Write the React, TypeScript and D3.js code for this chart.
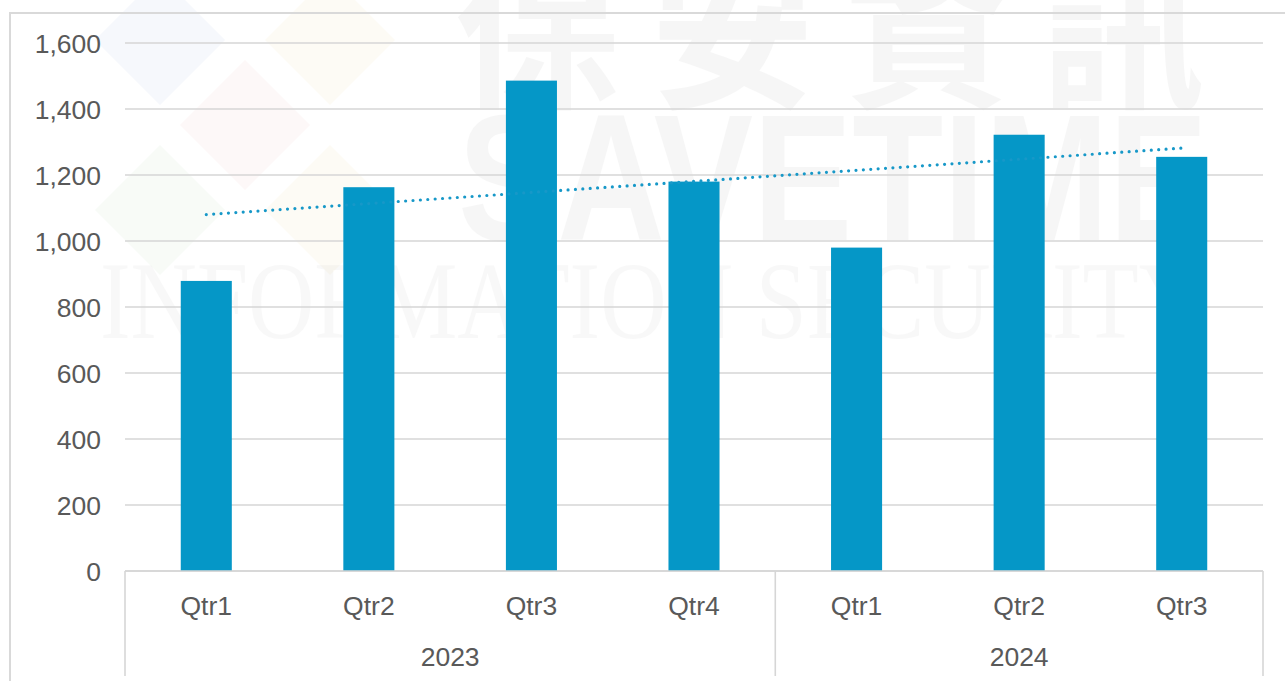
import React from "react";
import * as d3 from "d3";

const quarters = ["Qtr1", "Qtr2", "Qtr3", "Qtr4", "Qtr1", "Qtr2", "Qtr3"];
const years = ["2023", "2023", "2023", "2023", "2024", "2024", "2024"];
const values = [879, 1163, 1486, 1180, 980, 1322, 1255];
const yTicks = [0, 200, 400, 600, 800, 1000, 1200, 1400, 1600];
const yearGroups = ["2023", "2024"];

const W = 1285;
const H = 681;
const left = 125;
const right = 1263;
const top = 43;
const bottom = 571;
const textColor = "#595959";
const gridColor = "#d6d6d6";
const barColor = "#0597c7";
const font = "'Liberation Sans', Arial, sans-serif";
const fs = 26.5;

export default function App() {
  const idx = values.map((_, i) => i);
  const x = d3.scaleBand<number>().domain(idx).range([left, right]).paddingInner(0.686).paddingOuter(0.343);
  const y = d3.scaleLinear().domain([0, 1600]).range([bottom, top]);
  const step = x.step();

  // linear trendline (least squares) from the data
  const xs = idx.map((i) => i + 1);
  const mx = d3.mean(xs)!;
  const my = d3.mean(values)!;
  const slope =
    d3.sum(xs.map((v, i) => (v - mx) * (values[i] - my))) / d3.sum(xs.map((v) => (v - mx) ** 2));
  const icpt = my - slope * mx;
  const cx = (i: number) => (x(i) as number) + x.bandwidth() / 2;
  const trend = d3
    .line<number>()
    .x((i) => cx(i))
    .y((i) => y(icpt + slope * (i + 1)));

  const groupInfo = yearGroups.map((g) => {
    const members = idx.filter((i) => years[i] === g);
    const start = left + step * members[0];
    const end = left + step * (members[members.length - 1] + 1);
    return { g, start, end };
  });
  const boundaries = [left, ...groupInfo.map((d) => d.end)];

  const diamonds = [
    { cx: 160, cy: 40, r: 65, c: "#e9eef7" },
    { cx: 330, cy: 40, r: 65, c: "#fbf5e6" },
    { cx: 245, cy: 125, r: 65, c: "#fbeeee" },
    { cx: 160, cy: 210, r: 65, c: "#eef6ec" },
    { cx: 330, cy: 210, r: 65, c: "#fbf5e6" },
  ];

  return (
    <div style={{ position: "absolute", left: 0, top: 0 }}>
      <svg width={W} height={H} style={{ display: "block", background: "#fff" }}>
        {/* watermark */}
        <g>
          {diamonds.map((d, i) => (
            <polygon
              key={i}
              points={`${d.cx},${d.cy - d.r} ${d.cx + d.r},${d.cy} ${d.cx},${d.cy + d.r} ${d.cx - d.r},${d.cy}`}
              fill={d.c}
              opacity={0.4}
            />
          ))}
          <text
            x={455}
            y={95}
            fontFamily="'Noto Sans CJK TC', sans-serif"
            fontWeight={700}
            fontSize={165}
            fill="#000"
            opacity={0.03}
            textLength={750}
            lengthAdjust="spacing"
          >
            保安資訊
          </text>
          <text
            x={458}
            y={240}
            fontFamily="'Liberation Sans', Arial, sans-serif"
            fontWeight={700}
            fontSize={180}
            fill="#000"
            opacity={0.03}
            textLength={750}
            lengthAdjust="spacingAndGlyphs"
          >
            SAVETIME
          </text>
          <text
            x={100}
            y={338}
            fontFamily="'Liberation Serif', serif"
            fontSize={110}
            fill="#000"
            opacity={0.025}
            textLength={1105}
            lengthAdjust="spacingAndGlyphs"
          >
            INFORMATION SECURITY
          </text>
        </g>

        {/* outer border */}
        <rect x={10} y={13} width={W + 20} height={H + 20} fill="none" stroke="#d9d9d9" strokeWidth={2} />

        {/* gridlines */}
        {yTicks.map((t) => (
          <line key={t} x1={left} x2={right} y1={y(t)} y2={y(t)} stroke={gridColor} strokeWidth={1.6} />
        ))}

        {/* y labels */}
        {yTicks.map((t) => (
          <text
            key={"l" + t}
            x={101}
            y={y(t) + 9.5}
            textAnchor="end"
            fontFamily={font}
            fontSize={fs}
            fill={textColor}
          >
            {d3.format(",")(t)}
          </text>
        ))}

        {/* bars */}
        {values.map((v, i) => (
          <rect key={i} x={x(i)} y={y(v)} width={x.bandwidth()} height={y(0) - y(v)} fill={barColor} />
        ))}

        {/* trendline */}
        <path
          d={trend(idx) || ""}
          fill="none"
          stroke="#1798c8"
          strokeWidth={3.2}
          strokeLinecap="round"
          strokeDasharray="0 7.4"
        />

        {/* category axis */}
        <line x1={left} x2={right} y1={bottom} y2={bottom} stroke={gridColor} strokeWidth={1.6} />
        {boundaries.map((b, i) => (
          <line key={"b" + i} x1={b} x2={b} y1={bottom} y2={676} stroke={gridColor} strokeWidth={1.6} />
        ))}
        {quarters.map((q, i) => (
          <text key={"q" + i} x={cx(i)} y={615} textAnchor="middle" fontFamily={font} fontSize={fs} fill={textColor}>
            {q}
          </text>
        ))}
        {groupInfo.map((g) => (
          <text
            key={g.g}
            x={(g.start + g.end) / 2}
            y={666}
            textAnchor="middle"
            fontFamily={font}
            fontSize={fs}
            fill={textColor}
          >
            {g.g}
          </text>
        ))}
      </svg>
    </div>
  );
}
